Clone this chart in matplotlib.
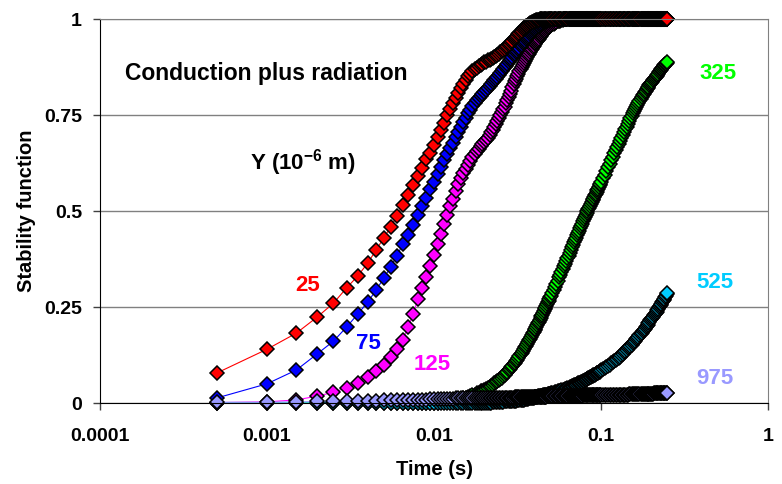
import matplotlib
matplotlib.use("Agg")
import matplotlib.pyplot as plt
from matplotlib.ticker import FixedLocator, FixedFormatter, NullLocator

plt.rcParams['font.family'] = ['Liberation Sans', 'DejaVu Sans']
plt.rcParams['mathtext.fontset'] = 'custom'
plt.rcParams['mathtext.bf'] = 'Liberation Sans:bold'
plt.rcParams['mathtext.rm'] = 'Liberation Sans:bold'
plt.rcParams['mathtext.default'] = 'bf'

# sampling times (s)
time_s = [
    0.0005, 0.001, 0.0015, 0.002, 0.0025, 0.003, 0.0035, 0.004, 0.0045, 0.005,
    0.0055, 0.006, 0.0065, 0.007, 0.0075, 0.008, 0.0085, 0.009, 0.0095, 0.01,
    0.0105, 0.011, 0.0115, 0.012, 0.0125, 0.013, 0.0135, 0.014, 0.0145, 0.015,
    0.0155, 0.016, 0.0165, 0.017, 0.0175, 0.018, 0.0185, 0.019, 0.0195, 0.02,
    0.0205, 0.021, 0.0215, 0.022, 0.0225, 0.023, 0.0235, 0.024, 0.0245, 0.025,
    0.0255, 0.026, 0.0265, 0.027, 0.0275, 0.028, 0.0285, 0.029, 0.0295, 0.03,
    0.0305, 0.031, 0.0315, 0.032, 0.0325, 0.033, 0.0335, 0.034, 0.0345, 0.035,
    0.0355, 0.036, 0.0365, 0.037, 0.0375, 0.038, 0.0385, 0.039, 0.0395, 0.04,
    0.0405, 0.041, 0.0415, 0.042, 0.0425, 0.043, 0.0435, 0.044, 0.0445, 0.045,
    0.0455, 0.046, 0.0465, 0.047, 0.0475, 0.048, 0.0485, 0.049, 0.0495, 0.05,
    0.051, 0.052, 0.053, 0.054, 0.055, 0.056, 0.057, 0.058, 0.059, 0.06,
    0.061, 0.062, 0.063, 0.064, 0.065, 0.066, 0.067, 0.068, 0.069, 0.07,
    0.071, 0.072, 0.073, 0.074, 0.075, 0.076, 0.077, 0.078, 0.079, 0.08,
    0.081, 0.082, 0.083, 0.084, 0.085, 0.086, 0.087, 0.088, 0.089, 0.09,
    0.091, 0.092, 0.093, 0.094, 0.095, 0.096, 0.097, 0.098, 0.099, 0.1,
    0.1025, 0.105, 0.1075, 0.11, 0.1125, 0.115, 0.1175, 0.12, 0.1225, 0.125,
    0.1275, 0.13, 0.1325, 0.135, 0.1375, 0.14, 0.1425, 0.145, 0.1475, 0.15,
    0.1525, 0.155, 0.1575, 0.16, 0.1625, 0.165, 0.1675, 0.17, 0.1725, 0.175,
    0.1775, 0.18, 0.1825, 0.185, 0.1875, 0.19, 0.1925, 0.195, 0.1975, 0.2,
    0.2025, 0.205, 0.2075, 0.21, 0.2125, 0.215, 0.2175, 0.22, 0.2225, 0.225,
    0.2275, 0.23, 0.2325, 0.235, 0.2375, 0.24, 0.2425, 0.245, 0.2475, 0.25,
]

# stability function for each Y (1e-6 m)
y25 = [
    .078, .14, .182, .224, .26, .30, .331, .364, .398, .43,
    .458, .487, .516, .542, .568, .591, .613, .635, .652, .672,
    .693, .71, .73, .75, .766, .782, .795, .808, .82, .832,
    .842, .851, .858, .864, .869, .873, .877, .881, .884, .887,
    .889, .892, .894, .897, .899, .902, .904, .907, .91, .913,
    .916, .919, .922, .926, .929, .933, .936, .94, .943, .947,
    .95, .954, .957, .961, .964, .967, .97, .973, .976, .978,
    .981, .983, .985, .987, .989, .99, .992, .993, .994, .995,
    .996, .997, .997, .998, .998, .999, .999,
] + [1.0] * 123

y75 = [
    .013, .05, .086, .128, .161, .198, .232, .262, .294, .325,
    .354, .384, .413, .438, .463, .49, .513, .535, .556, .576,
    .597, .615, .632, .648, .663, .678, .692, .705, .718, .731,
    .743, .754, .764, .773, .781, .788, .794, .8, .805, .81,
    .815, .82, .825, .83, .835, .84, .845, .85, .855, .86,
    .865, .869, .874, .878, .883, .887, .892, .896, .901, .905,
    .909, .913, .917, .921, .925, .929, .933, .937, .941, .944,
    .948, .951, .954, .957, .96, .963, .966, .968, .971, .973,
    .975, .977, .979, .981, .983, .985, .987, .988, .99, .991,
    .992, .993, .994, .995, .996, .997, .997, .998, .999, .999,
] + [1.0] * 110

y125 = [
    .001, .003, .008, .018, .028, .04, .053, .067, .083, .1,
    .12, .14, .165, .198, .232, .27, .3, .328, .357, .385,
    .413, .44, .467, .49, .512, .532, .552, .57, .585, .598,
    .61, .621, .631, .64, .648, .655, .662, .668, .674, .68,
    .685, .69, .697, .705, .712, .72, .727, .735, .742, .75,
    .757, .765, .772, .78, .788, .797, .805, .813, .822, .83,
    .838, .845, .852, .858, .864, .87, .875, .88, .885, .89,
    .895, .9, .905, .91, .914, .918, .922, .926, .93, .934,
    .937, .94, .943, .946, .949, .952, .955, .958, .96, .963,
    .966, .968, .97, .972, .974, .976, .978, .98, .982, .984,
    .986, .988, .99, .992, .994, .995, .996, .997, .998, .999,
] + [1.0] * 100

y325 = [0.0] * 20 + [
    .001, .002, .003, .004, .005, .006, .007, .008, .01, .012,
    .014, .016, .018, .02, .022, .025, .027, .03, .032, .035,
    .037, .04, .042, .045, .048, .051, .054, .057, .06, .063,
    .066, .07, .073, .077, .081, .085, .089, .093, .097, .101,
    .105, .109, .113, .118, .122, .127, .131, .136, .14, .145,
    .149, .154, .158, .163, .167, .172, .176, .181, .185, .19,
    .194, .199, .203, .208, .212, .217, .221, .226, .23, .235,
    .239, .244, .248, .253, .257, .262, .266, .271, .275, .279,
    .287, .295, .303, .311, .319, .327, .334, .341, .349, .356,
    .363, .37, .377, .384, .391, .398, .405, .411, .418, .424,
    .43, .437, .443, .449, .455, .461, .467, .473, .479, .484,
    .489, .494, .499, .504, .509, .514, .519, .523, .528, .532,
    .536, .541, .545, .55, .554, .558, .562, .567, .571, .575,
    .585, .595, .605, .614, .623, .632, .641, .65, .659, .667,
    .675, .683, .691, .698, .706, .713, .72, .727, .734, .741,
    .748, .754, .76, .766, .772, .777, .782, .787, .792, .797,
    .801, .805, .809, .813, .817, .82, .824, .827, .831, .834,
    .837, .84, .843, .846, .849, .852, .855, .858, .861, .864,
    .867, .869, .872, .874, .877, .879, .882, .884, .886, .888,
]

y525 = [0.0] * 40 + [
    .001, .001, .001, .001, .002, .002, .002, .002, .003, .003,
    .003, .003, .004, .004, .004, .004, .005, .005, .005, .006,
    .006, .006, .007, .007, .008, .008, .008, .009, .009, .01,
    .01, .011, .011, .012, .012, .013, .013, .014, .014, .015,
    .015, .016, .016, .017, .017, .018, .018, .019, .019, .02,
    .02, .021, .021, .022, .022, .023, .023, .024, .024, .025,
    .026, .027, .028, .029, .03, .031, .032, .033, .034, .035,
    .036, .037, .039, .04, .041, .042, .043, .045, .046, .047,
    .048, .049, .051, .052, .053, .054, .055, .057, .058, .06,
    .061, .062, .063, .065, .066, .067, .068, .07, .071, .072,
    .073, .074, .076, .077, .078, .079, .081, .082, .083, .085,
    .088, .091, .094, .097, .1, .103, .106, .109, .112, .115,
    .118, .121, .125, .128, .132, .135, .139, .142, .145, .148,
    .152, .155, .159, .162, .166, .169, .173, .176, .18, .183,
    .187, .19, .194, .197, .201, .204, .208, .211, .215, .218,
    .222, .225, .228, .231, .235, .238, .242, .245, .249, .252,
    .256, .259, .263, .266, .269, .272, .276, .279, .283, .286,
]

y975 = [
    .002, .002, .003, .004, .004, .005, .005, .006, .006, .007,
    .007, .007, .008, .008, .008, .009, .009, .009, .01, .01,
    .01, .01, .011, .011, .011, .011, .012, .012, .012, .012,
    .012, .012, .013, .013, .013, .013, .013, .013, .013, .013,
] + [.013] * 6 + [.014] * 14 + [.015] * 16 + [.016] * 18 + [.017] * 6 \
  + [.017] * 5 + [.018] * 10 + [.019] * 12 + [.02] * 13 + [.021] * 10 \
  + [.021] * 8 + [.022] * 10 + [.023] * 12 + [.024] * 12 + [.025] * 10 + [.026] * 8

# drawing order follows the original (red ends on top of the 1.0 plateau)
series = [
    ("125", y125, "#FF00FF", (9.7e-3, 0.099)),
    ("75", y75, "#0000FF", (4.03e-3, 0.156)),
    ("25", y25, "#FF0000", (1.74e-3, 0.307)),
    ("325", y325, "#00FF00", (0.50, 0.859)),
    ("525", y525, "#00CCFF", (0.48, 0.3125)),
    ("975", y975, "#9999FF", (0.48, 0.065)),
]

fig = plt.figure(figsize=(7.82, 4.84), dpi=100)
ax = fig.add_axes([100 / 782, 1 - 403 / 484, 668 / 782, 384 / 484])

for name, vals, col, pos in series:
    ax.plot(time_s, vals, color=col, lw=0.8, marker='D', ms=7.6,
            mfc=col, mec='black', mew=1.1, clip_on=False)
    ax.text(pos[0], pos[1], name, color=col, fontsize=16, fontweight='bold',
            ha='center', va='center')

ax.set_xscale('log')
ax.set_xlim(1e-4, 1)
ax.set_ylim(0, 1)

ax.xaxis.set_major_locator(FixedLocator([1e-4, 1e-3, 1e-2, 1e-1, 1]))
ax.xaxis.set_major_formatter(FixedFormatter(["0.0001", "0.001", "0.01", "0.1", "1"]))
ax.xaxis.set_minor_locator(NullLocator())
ax.yaxis.set_major_locator(FixedLocator([0, 0.25, 0.5, 0.75, 1]))
ax.yaxis.set_major_formatter(FixedFormatter(["0", "0.25", "0.5", "0.75", "1"]))

ax.grid(axis='y', color='#808080', lw=1)
ax.set_axisbelow(True)
for s in ['top', 'right']:
    ax.spines[s].set_color('#808080')
for s in ['left', 'bottom']:
    ax.spines[s].set_color('black')
ax.tick_params(axis='both', direction='out', length=5, width=1, color='#404040',
               labelsize=14)
ax.tick_params(axis='x', pad=13)
ax.tick_params(axis='y', pad=8)
for lab in ax.get_xticklabels() + ax.get_yticklabels():
    lab.set_fontweight('bold')

ax.set_xlabel("Time (s)", fontsize=14.5, fontweight='bold', labelpad=11)
ax.set_ylabel("Stability function", fontsize=14.5, fontweight='bold', labelpad=6)

ax.text(1.41e-4, 0.859, "Conduction plus radiation", fontsize=16.5, fontweight='bold',
        ha='left', va='center')
ax.text(7.9e-4, 0.625, r"Y (10$^{-6}$ m)", fontsize=16, fontweight='bold',
        ha='left', va='center')

fig.savefig("out.png", dpi=100)
